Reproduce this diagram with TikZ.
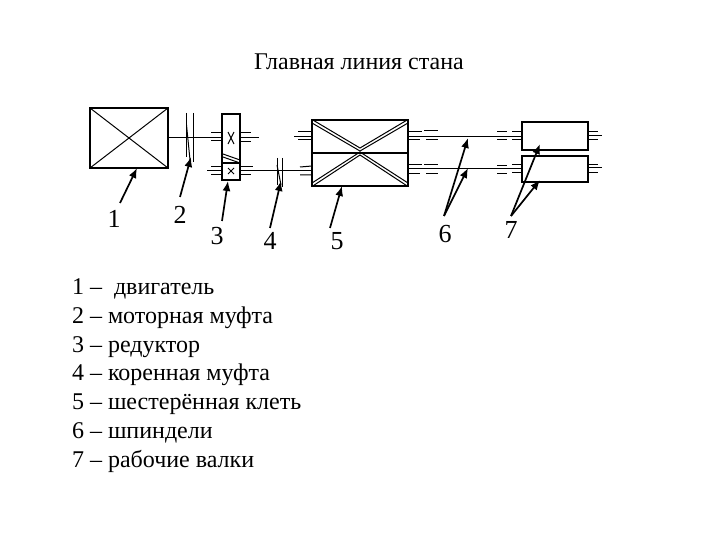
\documentclass[tikz,border=0pt]{standalone}
\usepackage{fontspec}
\setmainfont{Liberation Serif}
\usetikzlibrary{arrows.meta}
\tikzset{
  every node/.style={inner sep=0pt,outer sep=0pt},
  thick line/.style={line width=1.4pt,black},
  thin line/.style={line width=1pt,black},
  ptr/.style={line width=1.7pt,black,-{Latex[length=10pt,width=8pt]}},
  txt/.style={font=\fontsize{24}{28}\selectfont,text=black,anchor=base},
  digit/.style={font=\fontsize{26}{30}\selectfont,text=black,anchor=base},
  item/.style={font=\fontsize{24}{28}\selectfont,text=black,anchor=base west}
}
\begin{document}
\begin{tikzpicture}[x=1pt,y=-1pt]
\useasboundingbox (0,0) rectangle (720,540);
\fill[white] (0,0) rectangle (720,540);
% text
\node[txt] (title) at (359,69.5) {Главная линия стана};
\node[digit] (n1) at (114,228) {1};
\node[digit] (n2) at (180,223) {2};
\node[digit] (n3) at (217,244) {3};
\node[digit] (n4) at (270,249) {4};
\node[digit] (n5) at (337,249) {5};
\node[digit] (n6) at (445,243) {6};
\node[digit] (n7) at (511,239) {7};
\node[item] (l1) at (72,294) {1 –~ двигатель};
\node[item] (l2) at (72,323) {2 – моторная муфта};
\node[item] (l3) at (72,352) {3 – редуктор};
\node[item] (l4) at (72,380) {4 – коренная муфта};
\node[item] (l5) at (72,409) {5 – шестерённая клеть};
\node[item] (l6) at (72,438) {6 – шпиндели};
\node[item] (l7) at (72,467) {7 – рабочие валки};
% motor
\node[draw,thick line,minimum width=78pt,minimum height=60pt,anchor=north west] (motor) at (90,108) {};
\draw[thin line] (motor.north west) -- (motor.south east) (motor.north east) -- (motor.south west);
% gearbox
\node[draw,thick line,minimum width=18pt,minimum height=49pt,anchor=north west] (gearA) at (222,114) {};
\node[draw,thick line,minimum width=18pt,minimum height=17pt,anchor=north west] (gearB) at (222,163) {};
\draw[thin line] (223,154) -- (240,160) (223,157) -- (240,163);
\draw[thin line] (228,132) -- (234,144) (234,132) -- (228,144);
\draw[thin line] (228,168) -- (234,174) (234,168) -- (228,174);
% shafts
\draw[thin line] (motor.east |- 0,138) -- (gearA.west |- 0,138);
\draw[thin line] (240,133) -- (251,133) (240,138) -- (259,138) (240,142) -- (251,142);
\draw[thin line] (211,133) -- (222,133) (211,141) -- (222,141);
\draw[thin line] (211,167) -- (222,167) (207,171) -- (222,171) (211,175) -- (222,175);
\draw[thin line] (240,167) -- (253,167) (240,175) -- (251,175);
% stand
\node[draw,thick line,minimum width=96pt,minimum height=33pt,anchor=north west] (standA) at (312,120) {};
\node[draw,thick line,minimum width=96pt,minimum height=33pt,anchor=north west] (standB) at (312,153) {};
\draw[thin line] (240,170.5) -- (312,170.5);
\draw[thin line] (312,119.5) -- (360,148) -- (408,119.5);
\draw[thin line] (312,123) -- (360,151) -- (408,123);
\draw[thin line] (312,186.5) -- (360,155) -- (408,186.5);
\draw[thin line] (312,183) -- (360,152) -- (408,183);
% couplings
\draw[thin line] (186,113) -- (186,157) (193,113) -- (193,162);
\draw[thin line] (186.5,125) -- (190,160);
\draw[thin line] (277,158) -- (277,185) (282,158) -- (282,187);
\draw[thin line] (277,165) -- (281,185);
% stand stubs
\draw[thin line] (298,132) -- (312,132) (294,137) -- (312,137) (298,140) -- (312,140);
\draw[thin line] (300,167) -- (312,166) (300,175) -- (312,175);
\draw[thin line] (408,132) -- (422,132) (424,131) -- (438,131) (408,137) -- (522,137) (408,140) -- (420,140) (426,140) -- (438,140);
\draw[thin line] (408,165) -- (422,165) (424,165) -- (438,165) (408,169) -- (522,169) (408,174) -- (420,174) (426,174) -- (438,174);
% roll stubs
\draw[thin line] (497,132) -- (507,132) (512,132) -- (522,132) (497,140) -- (507,140) (512,140) -- (522,140);
\draw[thin line] (497,166) -- (507,166) (512,165) -- (522,165) (497,174) -- (507,174) (512,173) -- (522,173);
% rolls
\node[draw,thick line,minimum width=66pt,minimum height=28pt,anchor=north west] (rollA) at (522,122) {};
\node[draw,thick line,minimum width=66pt,minimum height=26pt,anchor=north west] (rollB) at (522,156) {};
\draw[thin line] (588,132) -- (598,132) (588,136) -- (602,136) (588,140) -- (598,140);
\draw[thin line] (588,165) -- (598,165) (588,168) -- (602,168) (588,173) -- (598,173);
% pointers
\coordinate (p1) at (120,203); \coordinate (q1) at (137,168);
\coordinate (p2) at (180,197); \coordinate (q2) at (191,157);
\coordinate (p3) at (222,221); \coordinate (q3) at (228,181);
\coordinate (p4) at (270,228); \coordinate (q4) at (281,181);
\coordinate (p5) at (330,228); \coordinate (q5) at (342,186);
\coordinate (p6) at (444,216); \coordinate (q6) at (468,138); \coordinate (q6b) at (468,168);
\coordinate (p7) at (511,216); \coordinate (q7) at (540,144); \coordinate (q7b) at (540,180);
\foreach \a/\b in {p1/q1,p2/q2,p3/q3,p4/q4,p5/q5,p6/q6,p6/q6b,p7/q7,p7/q7b}
  \draw[ptr] (\a) -- (\b);
\end{tikzpicture}
\end{document}
